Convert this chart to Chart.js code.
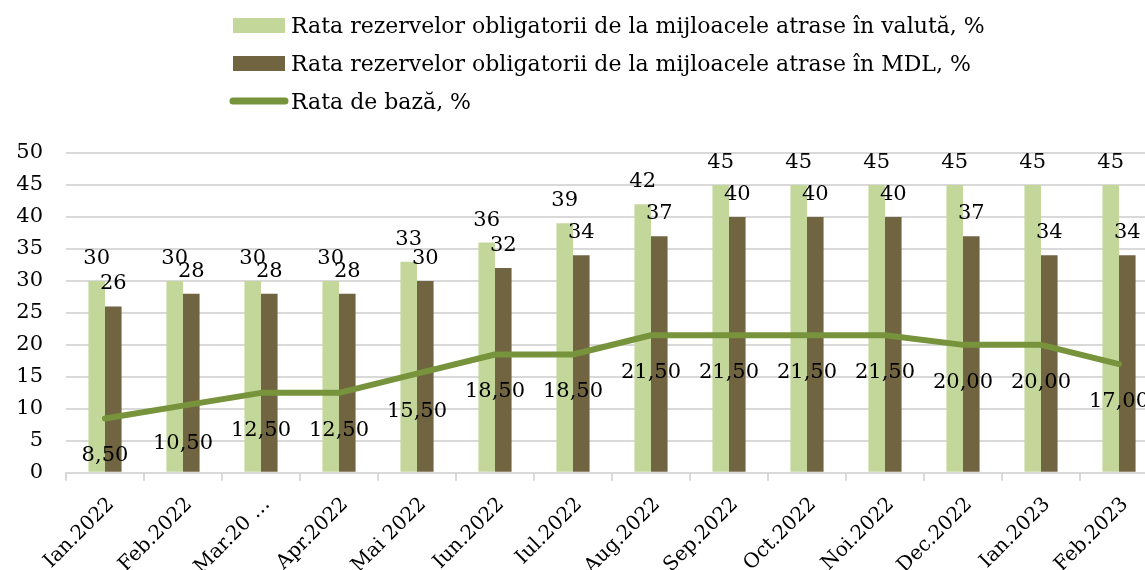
<!DOCTYPE html>
<html>
<head>
<meta charset="utf-8">
<script src="https://cdn.jsdelivr.net/npm/chart.js@4"></script>
<style>
  html, body { margin: 0; padding: 0; background: #fff; overflow: hidden; }
  #wrap { width: 1160px; height: 570px; }
</style>
</head>
<body>
<div id="wrap"><canvas id="chart"></canvas></div>
<script>
const labels = ["Ian.2022", "Feb.2022", "Mar.20 …", "Apr.2022", "Mai 2022", "Iun.2022", "Iul.2022",
    "Aug.2022", "Sep.2022", "Oct.2022", "Noi.2022", "Dec.2022", "Ian.2023", "Feb.2023"];
const valutaRates = [30, 30, 30, 30, 33, 36, 39, 42, 45, 45, 45, 45, 45, 45];
const mdlRates = [26, 28, 28, 28, 30, 32, 34, 37, 40, 40, 40, 37, 34, 34];
const baseRate = [8.5, 10.5, 12.5, 12.5, 15.5, 18.5, 18.5, 21.5, 21.5, 21.5, 21.5, 20, 20, 17];
const yTicks = [0, 5, 10, 15, 20, 25, 30, 35, 40, 45, 50];

const FONT = "'DejaVu Serif', serif";

// value labels: bars above the top, line below the point
const valueLabels = {
    id: "valueLabels",
    afterDatasetsDraw(chart) {
        const ctx = chart.ctx;
        ctx.save();
        ctx.font = "21px " + FONT;
        ctx.fillStyle = "#000";
        ctx.textAlign = "center";
        ctx.textBaseline = "alphabetic";
        chart.data.datasets.forEach((ds, i) => {
            const meta = chart.getDatasetMeta(i);
            meta.data.forEach((el, j) => {
                const v = ds.data[j];
                if (ds.type === "line") {
                    ctx.fillText(v.toFixed(2).replace(".", ","), el.x, el.y + 43);
                } else {
                    ctx.fillText(String(v), el.x, el.y - 17);
                }
            });
        });
        ctx.restore();
    }
};

// legend stacked one item per row, like the original
const stackedLegend = {
    id: "stackedLegend",
    afterDraw(chart) {
        const ctx = chart.ctx;
        const rows = [33, 71, 109];
        ctx.save();
        ctx.font = "22px " + FONT;
        ctx.textAlign = "left";
        ctx.textBaseline = "alphabetic";
        chart.data.datasets.forEach((ds, i) => {
            const y = rows[i];
            if (ds.type === "line") {
                ctx.strokeStyle = ds.borderColor;
                ctx.lineWidth = 7;
                ctx.lineCap = "round";
                ctx.beginPath();
                ctx.moveTo(233, y - 8);
                ctx.lineTo(285, y - 8);
                ctx.stroke();
            } else {
                ctx.fillStyle = ds.backgroundColor;
                ctx.fillRect(233, y - 15, 52, 15);
            }
            ctx.fillStyle = "#000";
            ctx.fillText(ds.label, 291, y);
        });
        ctx.restore();
    }
};

new Chart(document.getElementById("chart"), {
    data: {
        labels,
        datasets: [
            {
                type: "bar",
                label: "Rata rezervelor obligatorii de la mijloacele atrase în valută, %",
                data: valutaRates,
                backgroundColor: "#c4d79b",
                categoryPercentage: 0.425,
                barPercentage: 1,
                order: 1
            },
            {
                type: "bar",
                label: "Rata rezervelor obligatorii de la mijloacele atrase în MDL, %",
                data: mdlRates,
                backgroundColor: "#706540",
                categoryPercentage: 0.425,
                barPercentage: 1,
                order: 1
            },
            {
                type: "line",
                label: "Rata de bază, %",
                data: baseRate,
                borderColor: "#77933c",
                backgroundColor: "#77933c",
                borderWidth: 6,
                borderCapStyle: "round",
                borderJoinStyle: "round",
                pointRadius: 0,
                tension: 0,
                order: 0
            }
        ]
    },
    options: {
        responsive: true,
        maintainAspectRatio: false,
        animation: false,
        layout: { padding: { top: 153, left: 12, right: 2, bottom: 0 } },
        plugins: {
            legend: { display: false },
            tooltip: { enabled: false }
        },
        scales: {
            x: {
                afterFit(scale) {
                    // rotated labels may hang past the plot edges, as in the original
                    scale.paddingLeft = 0;
                    scale.paddingRight = 0;
                    scale.height -= 21;
                },
                grid: {
                    display: true,
                    drawOnChartArea: false,
                    offset: true,
                    tickLength: 8,
                    color: "#d9d9d9",
                    lineWidth: 2
                },
                border: { display: true, color: "#d9d9d9", width: 2 },
                ticks: {
                    autoSkip: false,
                    minRotation: 45,
                    maxRotation: 45,
                    color: "#000",
                    font: { family: FONT, size: 20 },
                    padding: 12,
                    labelOffset: 6
                }
            },
            y: {
                min: 0,
                max: 50,
                afterBuildTicks(scale) {
                    scale.ticks = yTicks.map(v => ({ value: v }));
                },
                afterFit(scale) {
                    scale.width = 54;
                },
                grid: { color: "#d9d9d9", lineWidth: 2, drawTicks: false },
                border: { display: false },
                ticks: {
                    color: "#000",
                    font: { family: FONT, size: 21 },
                    padding: 23
                }
            }
        }
    },
    plugins: [valueLabels, stackedLegend]
});
</script>
</body>
</html>
